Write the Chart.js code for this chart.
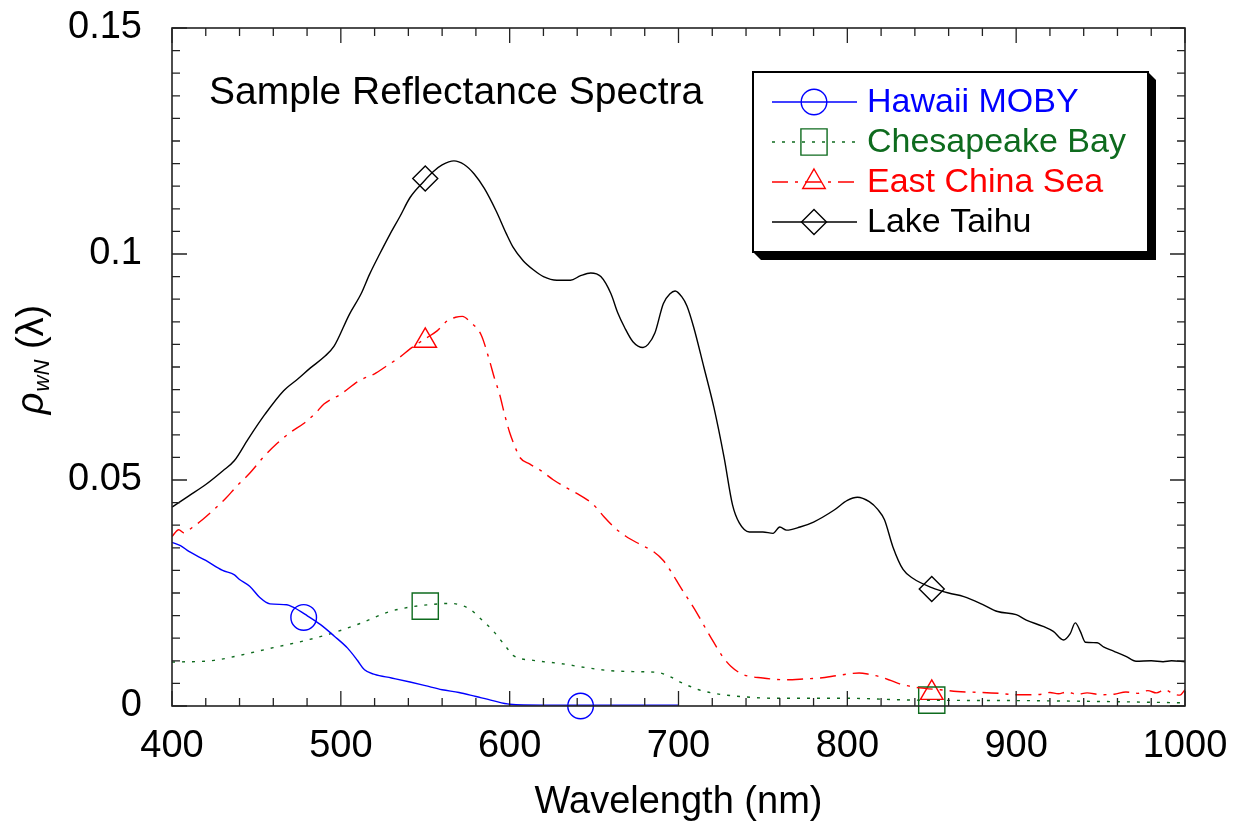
<!DOCTYPE html>
<html>
<head>
<meta charset="utf-8">
<script src="https://cdn.jsdelivr.net/npm/chart.js@4.4.1/dist/chart.umd.min.js"></script>
<style>
html, body { margin: 0; padding: 0; background: #fff; }
#wrap { width: 1241px; height: 831px; }
</style>
</head>
<body>
<div id="wrap"><canvas id="spectra" width="1241" height="831"></canvas></div>
<script>
// values (wavelength in nm, normalized reflectance)
const hawaiiWl = [400, 405, 410, 420, 430, 437, 440, 446, 452, 458, 468, 472, 480, 488, 496, 504, 510, 514, 520, 530, 541, 550, 560, 570, 580, 590, 600, 620, 660, 700];
const hawaiiVal = [0.0362, 0.0355, 0.0342, 0.0322, 0.0300, 0.0290, 0.0280, 0.0265, 0.0240, 0.0226, 0.0224, 0.0218, 0.0200, 0.0180, 0.0155, 0.0128, 0.0100, 0.0080, 0.0070, 0.0062, 0.0053, 0.0045, 0.0036, 0.0030, 0.0021, 0.0012, 0.0004, 0.0002, 0.0002, 0.0002];

const chesWl = [400, 425, 440, 460, 478, 494, 511, 529, 543, 555, 565, 572, 577, 582, 590, 598, 602, 614, 630, 645, 660, 675, 688, 695, 701, 712, 721, 740, 760, 800, 840, 900, 950, 1000];
const chesVal = [0.0097, 0.0101, 0.0112, 0.0129, 0.0144, 0.0160, 0.0182, 0.0209, 0.0220, 0.0225, 0.0227, 0.0222, 0.0213, 0.0196, 0.0167, 0.0130, 0.0112, 0.0101, 0.0094, 0.0085, 0.0078, 0.0076, 0.0074, 0.0065, 0.0053, 0.0036, 0.0028, 0.0020, 0.0017, 0.0017, 0.0013, 0.0012, 0.0010, 0.0007];

const ecsWl = [400, 404, 407, 412, 418, 425, 432, 438, 446, 454, 462, 470, 478, 485, 490, 500, 511, 520, 527, 535, 541, 551, 557, 563, 568, 572, 577, 583, 588, 591, 594, 597, 600, 603, 606, 612, 618, 626, 634, 640, 646, 651, 656, 662, 669, 677, 685, 691, 696, 701, 706, 711, 716, 721, 726, 731, 738, 750, 764, 775, 784, 795, 807, 813, 819, 826, 831, 843, 855, 865, 880, 890, 900, 908, 915, 920, 925, 930, 936, 942, 950, 958, 965, 972, 978, 983, 988, 993, 997, 1000];
const ecsVal = [0.0375, 0.0390, 0.0383, 0.0395, 0.0412, 0.0435, 0.0460, 0.0485, 0.0515, 0.0550, 0.0580, 0.0605, 0.0625, 0.0648, 0.0668, 0.0690, 0.0720, 0.0735, 0.0752, 0.0772, 0.0790, 0.0815, 0.0830, 0.0852, 0.0860, 0.0862, 0.0848, 0.0822, 0.0765, 0.0725, 0.0690, 0.0645, 0.0605, 0.0575, 0.0550, 0.0535, 0.0522, 0.0500, 0.0482, 0.0470, 0.0456, 0.0440, 0.0418, 0.0395, 0.0375, 0.0358, 0.0342, 0.0322, 0.0295, 0.0264, 0.0235, 0.0205, 0.0172, 0.0140, 0.0110, 0.0088, 0.0070, 0.0062, 0.0058, 0.0060, 0.0062, 0.0068, 0.0073, 0.0070, 0.0065, 0.0056, 0.0049, 0.0040, 0.0036, 0.0032, 0.0030, 0.0028, 0.0025, 0.0025, 0.0026, 0.0030, 0.0027, 0.0031, 0.0026, 0.0029, 0.0025, 0.0026, 0.0031, 0.0028, 0.0034, 0.0029, 0.0036, 0.0027, 0.0024, 0.0036];

const taihuWl = [400, 410, 420, 430, 437, 445, 455, 466, 475, 482, 490, 496, 505, 512, 517, 523, 529, 535, 541, 549, 555, 560, 567, 573, 579, 585, 592, 598, 602, 608, 614, 620, 628, 636, 642, 648, 654, 660, 664, 668, 673, 679, 682, 686, 691, 695, 698, 702, 705, 709, 715, 721, 727, 732, 736, 742, 750, 756, 760, 764, 772, 780, 792, 800, 806, 813, 818, 822, 827, 833, 839, 850, 860, 869, 880, 889, 900, 906, 916, 922, 928, 932, 935, 938, 941, 948, 952, 958, 965, 971, 980, 987, 992, 1000];
const taihuVal = [0.0440, 0.0465, 0.0490, 0.0520, 0.0543, 0.0590, 0.0645, 0.0697, 0.0725, 0.0748, 0.0772, 0.0796, 0.0866, 0.0912, 0.0955, 0.1000, 0.1043, 0.1083, 0.1125, 0.1160, 0.1183, 0.1197, 0.1206, 0.1198, 0.1177, 0.1145, 0.1095, 0.1045, 0.1015, 0.0985, 0.0965, 0.0950, 0.0942, 0.0942, 0.0952, 0.0958, 0.0950, 0.0912, 0.0870, 0.0838, 0.0806, 0.0793, 0.0800, 0.0825, 0.0890, 0.0912, 0.0918, 0.0905, 0.0885, 0.0838, 0.0750, 0.0660, 0.0550, 0.0445, 0.0405, 0.0385, 0.0385, 0.0382, 0.0396, 0.0389, 0.0396, 0.0407, 0.0433, 0.0455, 0.0462, 0.0452, 0.0435, 0.0412, 0.0352, 0.0302, 0.0282, 0.0262, 0.0250, 0.0242, 0.0225, 0.0209, 0.0202, 0.0190, 0.0176, 0.0165, 0.0146, 0.0160, 0.0184, 0.0165, 0.0141, 0.0140, 0.0130, 0.0121, 0.0110, 0.0099, 0.0100, 0.0098, 0.0100, 0.0098];

// symbol positions
const hawaiiMarkWl = [478, 642];
const hawaiiMarkVal = [0.0196, 0];
const chesMarkWl = [550, 850];
const chesMarkVal = [0.0221, 0.0013];
const ecsMarkWl = [550, 850];
const ecsMarkVal = [0.0808, 0.0029];
const taihuMarkWl = [550, 850];
const taihuMarkVal = [0.1167, 0.0259];

const xTicks = [400, 500, 600, 700, 800, 900, 1000];
const yTicks = [0, 0.05, 0.1, 0.15];

const FONT = '"Liberation Sans", Arial, Helvetica, sans-serif';

function pts(wl, val) {
    return wl.map((w, i) => ({ x: w, y: val[i] }));
}

const series = [
    { label: 'Hawaii MOBY', color: '#0000ff', dash: [], style: 'circle', r: 12.8,
      wl: hawaiiWl, val: hawaiiVal, mwl: hawaiiMarkWl, mval: hawaiiMarkVal },
    { label: 'Chesapeake Bay', color: '#0e6b1e', dash: [3, 7], style: 'rect', r: 18.5,
      wl: chesWl, val: chesVal, mwl: chesMarkWl, mval: chesMarkVal },
    { label: 'East China Sea', color: '#ff0000', dash: [16, 7, 3, 7], style: 'triangle', r: 13,
      wl: ecsWl, val: ecsVal, mwl: ecsMarkWl, mval: ecsMarkVal },
    { label: 'Lake Taihu', color: '#000000', dash: [], style: 'rectRot', r: 12.5,
      wl: taihuWl, val: taihuVal, mwl: taihuMarkWl, mval: taihuMarkVal }
];

const datasets = [];
series.forEach(s => {
    datasets.push({
        label: s.label,
        data: pts(s.wl, s.val),
        borderColor: s.color,
        borderWidth: 1.4,
        borderDash: s.dash,
        pointRadius: 0,
        fill: false,
        cubicInterpolationMode: 'monotone'
    });
});
series.forEach(s => {
    datasets.push({
        label: s.label + ' marks',
        data: pts(s.mwl, s.mval),
        showLine: false,
        pointStyle: s.style,
        pointRadius: s.r,
        pointBorderWidth: 1.4,
        pointBorderColor: s.color,
        pointBackgroundColor: 'rgba(0,0,0,0)',
        clip: false
    });
});

// frame, inward ticks on all sides, titles, legend
const decorations = {
    id: 'decorations',
    afterDraw(chart) {
        const ctx = chart.ctx;
        const a = chart.chartArea;
        const xs = chart.scales.x, ys = chart.scales.y;
        ctx.save();
        ctx.strokeStyle = '#222';
        ctx.lineWidth = 1.6;
        ctx.setLineDash([]);
        ctx.strokeRect(a.left, a.top, a.right - a.left, a.bottom - a.top);

        ctx.lineWidth = 1.3;
        ctx.beginPath();
        for (let w = 400; w <= 1000; w += 20) {
            const px = xs.getPixelForValue(w);
            const len = (w % 100 === 0) ? 15 : 8;
            ctx.moveTo(px, a.bottom); ctx.lineTo(px, a.bottom - len);
            ctx.moveTo(px, a.top); ctx.lineTo(px, a.top + len);
        }
        for (let k = 0; k <= 30; k++) {
            const py = ys.getPixelForValue(k * 0.005);
            const len = (k % 10 === 0) ? 15 : 8;
            ctx.moveTo(a.left, py); ctx.lineTo(a.left + len, py);
            ctx.moveTo(a.right, py); ctx.lineTo(a.right - len, py);
        }
        ctx.stroke();

        // x axis title
        ctx.fillStyle = '#000';
        ctx.font = '38px ' + FONT;
        ctx.textAlign = 'center';
        ctx.textBaseline = 'alphabetic';
        ctx.fillText('Wavelength (nm)', (a.left + a.right) / 2, 813);

        // y axis title: rho with subscript wN
        ctx.save();
        ctx.translate(43, 360);
        ctx.rotate(-Math.PI / 2);
        ctx.textAlign = 'left';
        const f1 = 'italic 38px ' + FONT, f2 = 'italic 22px ' + FONT, f3 = '38px ' + FONT;
        ctx.font = f1; const w1 = ctx.measureText('ρ').width;
        ctx.font = f2; const w2 = ctx.measureText('wN').width;
        ctx.font = f3; const w3 = ctx.measureText(' (λ)').width;
        let sx = -(w1 + w2 + w3) / 2;
        ctx.font = f1; ctx.fillText('ρ', sx, 0);
        ctx.font = f2; ctx.fillText('wN', sx + w1 + 1, 6);
        ctx.font = f3; ctx.fillText(' (λ)', sx + w1 + w2 + 1, 0);
        ctx.restore();

        // inner title
        ctx.font = '39px ' + FONT;
        ctx.textAlign = 'left';
        ctx.textBaseline = 'middle';
        ctx.fillText('Sample Reflectance Spectra', 209, 93);

        // legend box with drop shadow
        const bx = 753, by = 72, bw = 395, bh = 180, sh = 8;
        ctx.fillStyle = '#000';
        ctx.beginPath();
        ctx.moveTo(bx + bw, by);
        ctx.lineTo(bx + bw + sh, by + sh);
        ctx.lineTo(bx + bw + sh, by + bh + sh);
        ctx.lineTo(bx + sh, by + bh + sh);
        ctx.lineTo(bx, by + bh);
        ctx.closePath();
        ctx.fill();
        ctx.fillStyle = '#fff';
        ctx.fillRect(bx, by, bw, bh);
        ctx.strokeStyle = '#000';
        ctx.lineWidth = 2;
        ctx.strokeRect(bx, by, bw, bh);

        const rows = [102, 142, 182, 222];
        series.forEach((s, i) => {
            const y = rows[i];
            ctx.strokeStyle = s.color;
            ctx.lineWidth = 1.4;
            ctx.setLineDash(s.dash);
            ctx.beginPath();
            ctx.moveTo(772, y); ctx.lineTo(857, y);
            ctx.stroke();
            ctx.setLineDash([]);
            ctx.fillStyle = 'rgba(0,0,0,0)';
            Chart.helpers.drawPoint(ctx, { pointStyle: s.style, radius: s.r, rotation: 0, borderWidth: 1.4 }, 814, y);
            ctx.fillStyle = s.color;
            ctx.font = '34px ' + FONT;
            ctx.textAlign = 'left';
            ctx.textBaseline = 'middle';
            ctx.fillText(s.label, 867, y + 1);
        });
        ctx.restore();
    }
};

new Chart(document.getElementById('spectra'), {
    type: 'line',
    data: { datasets: datasets },
    options: {
        responsive: false,
        devicePixelRatio: 1,
        animation: false,
        layout: { padding: { top: 28, right: 56, left: 0, bottom: 0 } },
        plugins: { legend: { display: false }, tooltip: { enabled: false }, title: { display: false } },
        scales: {
            x: {
                type: 'linear',
                min: 400, max: 1000,
                afterFit: s => { s.height = 125; s.paddingLeft = 0; s.paddingRight = 0; },
                afterBuildTicks: s => { s.ticks = xTicks.map(v => ({ value: v })); },
                grid: { display: false, drawTicks: false },
                border: { display: false },
                ticks: {
                    color: '#000', font: { family: FONT, size: 38 }, padding: 18, maxRotation: 0,
                    callback: v => String(v)
                }
            },
            y: {
                type: 'linear',
                min: 0, max: 0.15,
                afterFit: s => { s.width = 172; s.paddingTop = 0; s.paddingBottom = 0; },
                afterBuildTicks: s => { s.ticks = yTicks.map(v => ({ value: v })); },
                grid: { display: false, drawTicks: false },
                border: { display: false },
                ticks: {
                    color: '#000', font: { family: FONT, size: 38 }, padding: 30,
                    callback: v => String(+Number(v).toFixed(3))
                }
            }
        }
    },
    plugins: [decorations]
});
</script>
</body>
</html>
